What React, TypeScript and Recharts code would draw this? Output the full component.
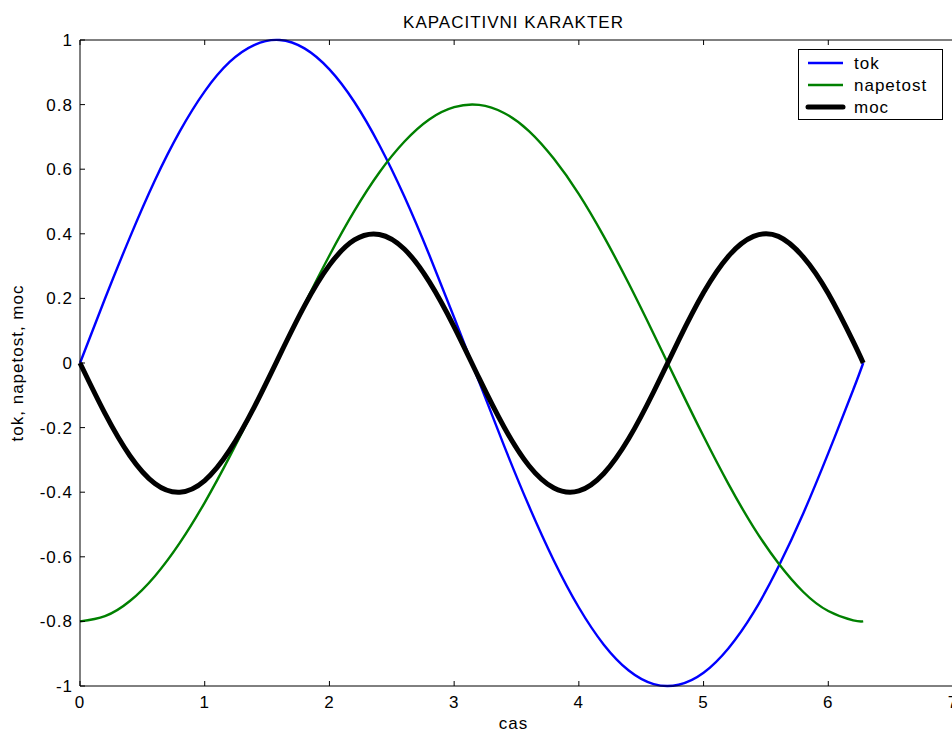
import React from 'react';
import { LineChart, Line, XAxis, YAxis, Legend, Label } from 'recharts';

// cas (x) samples and the three curves
const CAS = [
  0, 0.2, 0.4, 0.6, 0.8, 1.0, 1.2, 1.4, 1.6, 1.8, 2.0, 2.2, 2.4, 2.6, 2.8, 3.0, 3.2,
  3.4, 3.6, 3.8, 4.0, 4.2, 4.4, 4.6, 4.8, 5.0, 5.2, 5.4, 5.6, 5.8, 6.0, 6.2, 6.28,
];
const TOK = [
  0, 0.199, 0.389, 0.565, 0.717, 0.841, 0.932, 0.985, 1.0, 0.974, 0.909, 0.808, 0.675,
  0.516, 0.335, 0.141, -0.058, -0.256, -0.443, -0.612, -0.757, -0.872, -0.952, -0.994,
  -0.996, -0.959, -0.883, -0.773, -0.631, -0.465, -0.279, -0.083, 0,
];
const NAPETOST = [
  -0.8, -0.784, -0.737, -0.66, -0.557, -0.432, -0.29, -0.136, 0.023, 0.182, 0.333, 0.471,
  0.59, 0.685, 0.754, 0.792, 0.799, 0.774, 0.718, 0.632, 0.523, 0.392, 0.246, 0.09, -0.07,
  -0.227, -0.375, -0.508, -0.62, -0.709, -0.768, -0.797, -0.8,
];
const MOC = [
  0, -0.156, -0.287, -0.373, -0.4, -0.364, -0.27, -0.134, 0.023, 0.177, 0.303, 0.381,
  0.398, 0.353, 0.252, 0.112, -0.047, -0.198, -0.318, -0.387, -0.396, -0.342, -0.234,
  -0.089, 0.07, 0.218, 0.331, 0.392, 0.392, 0.328, 0.215, 0.066, 0,
];

const X_TICKS = [0, 1, 2, 3, 4, 5, 6, 7];
const Y_TICKS = [-1, -0.8, -0.6, -0.4, -0.2, 0, 0.2, 0.4, 0.6, 0.8, 1];

const SERIES = [
  { key: 'tok', name: 'tok', color: '#0000ff', width: 2.4 },
  { key: 'napetost', name: 'napetost', color: '#008000', width: 2.4 },
  { key: 'moc', name: 'moc', color: '#000000', width: 5 },
];

const data = CAS.map((x, i) => ({ x, tok: TOK[i], napetost: NAPETOST[i], moc: MOC[i] }));

const FONT = '"Liberation Sans", Arial, sans-serif';
const tickStyle = { fontSize: 17, fill: '#000', fontFamily: FONT, letterSpacing: 1 };

const renderLegend = () => (
  <svg width={145} height={71} style={{ display: 'block' }}>
    <rect x={0.5} y={0.5} width={144} height={70} fill="#fff" stroke="#000" />
    {SERIES.map((s, i) => (
      <g key={s.key}>
        <line
          x1={10}
          x2={45}
          y1={14 + i * 22}
          y2={14 + i * 22}
          stroke={s.color}
          strokeWidth={s.width}
          strokeLinecap={s.width > 3 ? 'round' : 'butt'}
        />
        <text x={56} y={20 + i * 22} fontSize={17} fontFamily={FONT} letterSpacing={1} fill="#000">
          {s.name}
        </text>
      </g>
    ))}
  </svg>
);

type LabelViewBox = { viewBox?: { x: number; y: number; width: number; height: number } };

const YLabel = ({ viewBox }: LabelViewBox) => {
  if (!viewBox) return null;
  const cy = viewBox.y + viewBox.height / 2;
  return (
    <text
      x={23}
      y={cy}
      transform={`rotate(-90, 23, ${cy})`}
      textAnchor="middle"
      fontSize={17}
      fontFamily={FONT}
      letterSpacing={1}
      fill="#000"
    >
      tok, napetost, moc
    </text>
  );
};

const XLabel = ({ viewBox }: LabelViewBox) => {
  if (!viewBox) return null;
  return (
    <text
      x={viewBox.x + viewBox.width / 2 - 3}
      y={729}
      textAnchor="middle"
      fontSize={17}
      fontFamily={FONT}
      letterSpacing={1}
      fill="#000"
    >
      cas
    </text>
  );
};

export default function App() {
  return (
    <div
      style={{
        position: 'absolute',
        left: 0,
        top: 0,
        width: 952,
        height: 733,
        overflow: 'hidden',
        background: '#fff',
      }}
    >
      <svg
        width={952}
        height={40}
        style={{ position: 'absolute', left: 0, top: 0, pointerEvents: 'none', zIndex: 1 }}
      >
        <text x={513.5} y={28} textAnchor="middle" fontSize={17} fontFamily={FONT} letterSpacing={1} fill="#000">
          KAPACITIVNI KARAKTER
        </text>
      </svg>
      <LineChart width={953} height={733} data={data} margin={{ top: 39, right: 0, bottom: 0, left: 0 }}>
        <XAxis
          xAxisId="bottom"
          dataKey="x"
          type="number"
          domain={[0, 7]}
          ticks={X_TICKS}
          height={47}
          stroke="#000"
          tickSize={-5}
          tickMargin={15}
          tick={tickStyle}
          interval={0}
        >
          <Label content={<XLabel />} />
        </XAxis>
        <XAxis
          xAxisId="top"
          orientation="top"
          dataKey="x"
          type="number"
          domain={[0, 7]}
          ticks={X_TICKS}
          height={1}
          stroke="#000"
          tickSize={-5}
          tickFormatter={() => ''}
          interval={0}
        />
        <YAxis
          type="number"
          domain={[-1, 1]}
          ticks={Y_TICKS}
          width={80}
          stroke="#000"
          tickSize={-5}
          tickMargin={12}
          tick={tickStyle}
          interval={0}
          tickFormatter={(v: number) => String(v)}
        >
          <Label content={<YLabel />} />
        </YAxis>
        <Legend
          content={renderLegend}
          layout="horizontal"
          verticalAlign="middle"
          align="center"
          wrapperStyle={{ left: 798, top: 49, width: 145, height: 71 }}
        />
        {SERIES.map((s) => (
          <Line
            key={s.key}
            xAxisId="bottom"
            type="natural"
            dataKey={s.key}
            name={s.name}
            stroke={s.color}
            strokeWidth={s.width}
            dot={false}
            activeDot={false}
            isAnimationActive={false}
          />
        ))}
      </LineChart>
    </div>
  );
}
